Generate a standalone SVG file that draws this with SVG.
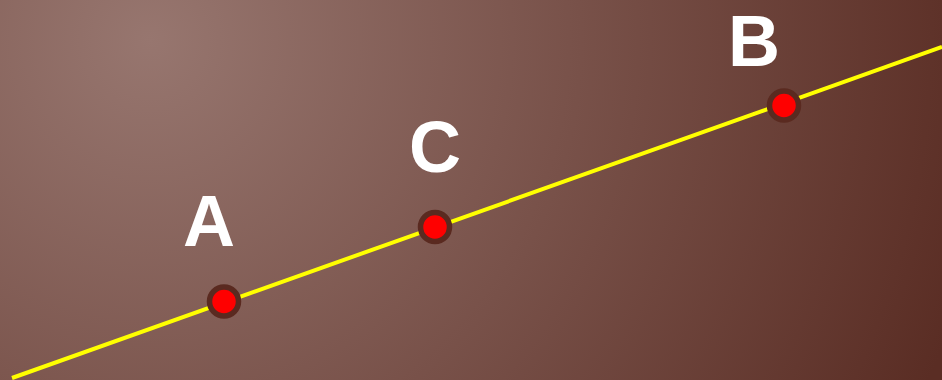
<svg xmlns="http://www.w3.org/2000/svg" width="942" height="380" viewBox="0 0 942 380">
<defs>
<radialGradient id="bg" gradientUnits="userSpaceOnUse" cx="150" cy="40" r="850">
<stop offset="0" stop-color="#97766f"/>
<stop offset="1" stop-color="#5a2d24"/>
</radialGradient>
<style>
.pt{fill:#ff0000;stroke:#5a2a20;stroke-width:5.5}
.lbl{font-family:"Liberation Sans",Arial,sans-serif;font-weight:bold;font-size:72px;fill:#ffffff;text-anchor:middle}
</style>
</defs>
<rect width="942" height="380" fill="url(#bg)"/>
<g id="connectors">
<line x1="12" y1="378" x2="942" y2="47" stroke="#ffff00" stroke-width="4"/>
</g>
<g id="A"><circle class="pt" cx="224" cy="301.5" r="14.5"/><text class="lbl" x="209" y="246">A</text></g>
<g id="C"><circle class="pt" cx="435" cy="227" r="14.5"/><text class="lbl" x="435" y="172">C</text></g>
<g id="B"><circle class="pt" cx="784" cy="105.5" r="14.5"/><text class="lbl" x="754" y="66">B</text></g>
</svg>
